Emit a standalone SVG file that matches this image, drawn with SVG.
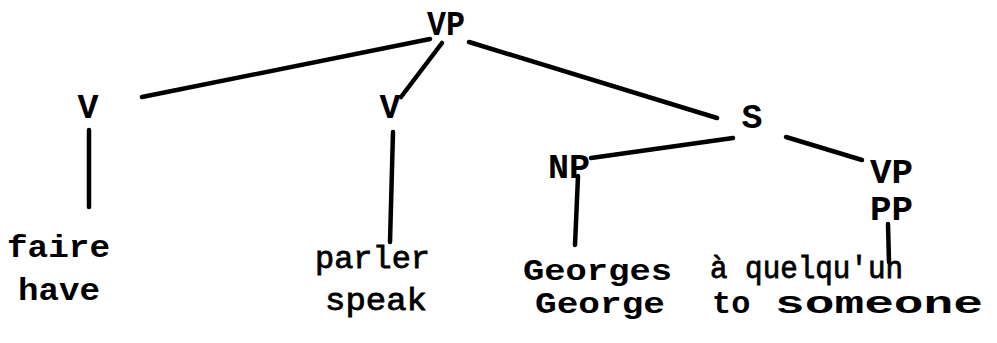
<svg xmlns="http://www.w3.org/2000/svg" width="997" height="343" viewBox="0 0 997 343">
<style>
.lbl{font-family:"Liberation Mono","DejaVu Sans Mono",monospace;font-weight:bold;font-size:35px;fill:#000}
.wd{font-family:"Liberation Mono","DejaVu Sans Mono",monospace;font-weight:bold;font-size:32px;fill:#000}
.wn{font-family:"Liberation Mono","DejaVu Sans Mono",monospace;font-weight:bold;font-size:29px;fill:#000}
.wl{font-family:"Liberation Mono","DejaVu Sans Mono",monospace;font-weight:normal;font-size:32px;fill:#000;stroke:#000;stroke-width:0.8}
.edge{stroke:#000;stroke-width:4.5;stroke-linecap:round;fill:none}
</style>
<rect width="997" height="343" fill="#fff"/>
<g id="connectors">
<line class="edge" x1="430" y1="39" x2="142" y2="97"/>
<line class="edge" x1="442" y1="43" x2="401" y2="97"/>
<line class="edge" x1="469" y1="42" x2="717" y2="118"/>
<line class="edge" x1="89" y1="130" x2="89" y2="207"/>
<line class="edge" x1="393" y1="132" x2="390" y2="242"/>
<line class="edge" x1="733" y1="138" x2="591" y2="158"/>
<line class="edge" x1="786" y1="137" x2="862" y2="160"/>
<line class="edge" x1="578" y1="176" x2="575" y2="245"/>
<line class="edge" x1="888" y1="224" x2="889" y2="262"/>
</g>
<g id="n-VP-top"><text class="lbl" x="427" y="35" textLength="38" lengthAdjust="spacingAndGlyphs">VP</text></g>
<g id="n-V-left"><text class="lbl" x="88" y="118" text-anchor="middle">V</text></g>
<g id="n-V-mid"><text class="lbl" x="390" y="118" text-anchor="middle">V</text></g>
<g id="n-S"><text class="lbl" x="752" y="128" text-anchor="middle">S</text></g>
<g id="n-NP"><text class="lbl" x="548" y="178" textLength="42" lengthAdjust="spacingAndGlyphs">NP</text></g>
<g id="n-VP-right"><text class="lbl" x="870" y="183" textLength="43" lengthAdjust="spacingAndGlyphs">VP</text></g>
<g id="n-PP"><text class="lbl" x="870" y="220" textLength="43" lengthAdjust="spacingAndGlyphs">PP</text></g>
<g id="n-faire">
<text class="wd" x="7" y="257" textLength="103" lengthAdjust="spacingAndGlyphs">faire</text>
<text class="wd" x="18" y="300" textLength="82" lengthAdjust="spacingAndGlyphs">have</text>
</g>
<g id="n-parler">
<text class="wl" x="315" y="268" textLength="115" lengthAdjust="spacingAndGlyphs">parler</text>
<text class="wl" x="325" y="310" textLength="102" lengthAdjust="spacingAndGlyphs">speak</text>
</g>
<g id="n-Georges">
<text class="wn" x="523" y="280" textLength="149" lengthAdjust="spacingAndGlyphs">Georges</text>
<text class="wn" x="535" y="313" textLength="130" lengthAdjust="spacingAndGlyphs">George</text>
</g>
<g id="n-quelquun">
<text class="wl" x="710" y="278" textLength="193" lengthAdjust="spacingAndGlyphs">à quelqu'un</text>
<text class="wd" y="313"><tspan x="712">to</tspan> <tspan x="775" textLength="208" lengthAdjust="spacingAndGlyphs">someone</tspan></text>
</g>
</svg>
